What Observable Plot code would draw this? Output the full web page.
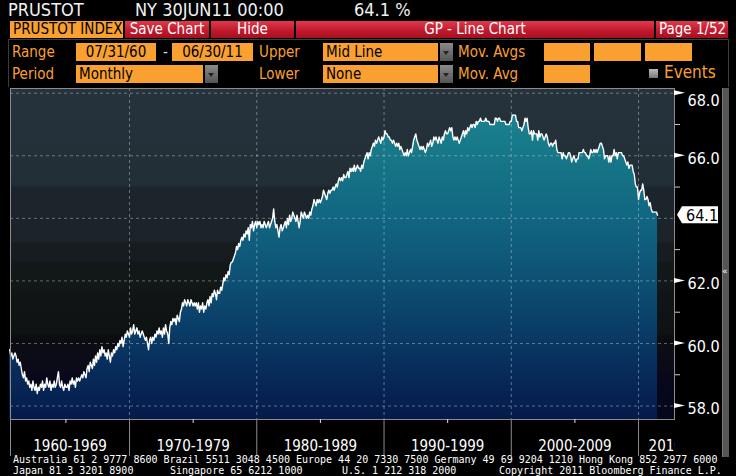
<!DOCTYPE html>
<html><head><meta charset="utf-8">
<script src="https://cdn.jsdelivr.net/npm/d3@7"></script>
<script src="https://cdn.jsdelivr.net/npm/@observablehq/plot@0.6"></script>
<style>
html,body{margin:0;padding:0;background:#000;}
#wrap{position:relative;width:736px;height:476px;background:#000;overflow:hidden;
  font-family:"Liberation Sans Narrow","DejaVu Sans Condensed","Roboto Condensed","Liberation Sans",sans-serif;}
#wrap svg{position:absolute;left:0;top:0;}
.t{position:absolute;white-space:nowrap;line-height:1;}
.hdr{color:#f2f2f2;font-size:18px;top:1px;}
.ob{position:absolute;background:#f9a030;color:#000;font-size:15px;line-height:18px;height:18px;white-space:nowrap;box-sizing:border-box;}
.btn{position:absolute;top:21px;height:17px;line-height:17px;color:#fff;font-size:15px;text-align:center;
  background:linear-gradient(#e23a4c,#c01a2e 55%,#a8101f);box-sizing:border-box;white-space:nowrap;}
.lbl{position:absolute;color:#f9a030;font-size:15px;line-height:18px;white-space:nowrap;}
.dd{position:absolute;width:13px;height:18px;background:linear-gradient(#8a8a8a,#555);}
.dd:after{content:"";position:absolute;left:3px;top:8px;border-left:3.5px solid transparent;border-right:3.5px solid transparent;border-top:4px solid #222;}
.foot{position:absolute;color:#fff;font-family:"DejaVu Sans Mono",monospace;font-size:10px;line-height:10px;white-space:nowrap;}
</style></head>
<body><div id="wrap"></div>
<script>
// PRUSTOT: US labor force participation rate (%), monthly, Jul 1960 - Jun 2011
const firstMonth = "1960-07";
const rate = [
  59.8,59.6,59.7,59.5,59.6,59.7,                               // 1960 Jul-Dec
  59.6,59.4,59.5,59.3,59.4,59.2,59.0,58.9,59.1,58.8,58.9,58.7, // 1961
  58.8,58.6,58.7,58.5,58.8,58.6,58.5,58.7,58.4,58.6,58.5,58.7, // 1962
  58.6,58.8,58.5,58.7,58.6,58.9,58.7,58.6,58.8,58.5,58.7,58.6, // 1963
  58.8,58.6,58.7,58.9,59.1,58.7,58.6,58.8,58.6,58.5,58.7,58.6, // 1964
  58.6,58.7,58.5,58.8,58.7,58.9,58.7,58.8,58.6,58.9,58.8,58.9, // 1965
  58.8,58.9,59.0,58.9,59.1,59.0,58.9,59.2,59.3,59.1,59.4,59.3, // 1966
  59.2,59.5,59.3,59.6,59.4,59.7,59.5,59.8,59.6,59.9,59.7,59.8, // 1967
  59.6,59.7,59.5,59.8,59.6,59.4,59.7,59.6,59.8,59.7,59.9,59.8, // 1968
  60.0,59.9,60.1,60.0,60.2,59.9,60.1,60.3,60.2,60.4,60.3,60.2, // 1969
  60.5,60.3,60.4,60.6,60.3,60.4,60.5,60.3,60.4,60.2,60.3,60.4, // 1970
  60.3,60.2,60.1,60.2,60.0,59.8,60.1,60.2,60.0,60.2,60.1,60.3, // 1971
  60.2,60.4,60.3,60.5,60.3,60.4,60.2,60.5,60.3,60.6,60.4,60.3, // 1972
  60.0,60.5,60.7,60.6,60.8,60.7,60.8,60.6,60.9,60.8,60.7,61.0, // 1973
  61.1,61.3,61.2,61.4,61.3,61.2,61.4,61.3,61.2,61.4,61.3,61.2, // 1974
  61.3,61.2,61.3,61.1,61.3,61.0,61.2,61.1,61.3,61.0,61.2,61.1, // 1975
  61.3,61.4,61.2,61.5,61.3,61.6,61.5,61.7,61.6,61.4,61.7,61.6, // 1976
  61.6,61.8,61.7,61.9,62.1,62.0,62.2,62.1,62.3,62.2,62.5,62.6, // 1977
  62.6,62.7,62.8,62.9,63.1,63.0,63.2,63.1,63.3,63.4,63.3,63.5, // 1978
  63.4,63.6,63.5,63.7,63.3,63.8,63.7,63.9,63.6,63.8,63.9,63.7, // 1979
  63.9,63.8,63.9,63.7,63.8,63.7,63.9,63.8,63.7,63.8,63.9,63.7, // 1980
  63.8,63.9,64.0,64.3,63.9,63.7,63.8,63.6,63.4,63.7,63.8,63.6, // 1981
  63.7,63.8,63.9,63.7,64.0,63.8,64.1,63.9,64.0,64.2,64.1,64.0, // 1982
  63.9,64.1,63.9,63.7,63.9,64.2,64.1,64.0,64.2,64.1,64.0,64.1, // 1983
  64.0,64.2,64.1,64.3,64.4,64.6,64.5,64.4,64.6,64.5,64.6,64.5, // 1984
  64.6,64.7,64.9,64.8,64.7,64.6,64.8,64.9,64.8,64.9,64.9,65.0, // 1985
  64.9,65.0,65.1,65.0,65.2,65.3,65.2,65.3,65.2,65.4,65.3,65.3, // 1986
  65.4,65.5,65.3,65.6,65.5,65.6,65.5,65.7,65.5,65.6,65.7,65.6, // 1987
  65.6,65.5,65.7,65.6,65.8,65.9,66.0,66.1,65.9,66.1,66.0,66.2, // 1988
  66.3,66.4,66.3,66.5,66.4,66.5,66.6,66.5,66.4,66.6,66.5,66.6, // 1989
  66.8,66.7,66.7,66.6,66.6,66.5,66.5,66.4,66.5,66.4,66.3,66.4, // 1990
  66.3,66.4,66.2,66.3,66.2,66.1,66.0,66.1,66.0,66.2,66.0,66.1, // 1991
  66.2,66.1,66.3,66.5,66.6,66.7,66.5,66.4,66.3,66.2,66.3,66.2, // 1992
  66.3,66.2,66.1,66.2,66.4,66.3,66.4,66.5,66.3,66.4,66.6,66.5, // 1993
  66.6,66.5,66.4,66.6,66.5,66.4,66.6,66.5,66.7,66.8,66.7,66.7, // 1994
  66.8,66.9,66.8,66.9,66.6,66.5,66.6,66.5,66.6,66.5,66.4,66.5, // 1995
  66.6,66.7,66.8,66.6,66.8,66.7,66.9,66.8,66.9,67.0,66.9,67.0, // 1996
  67.0,66.9,67.1,67.0,67.1,67.1,67.2,67.1,67.1,67.1,67.1,67.2, // 1997
  67.1,67.1,67.1,67.0,67.0,67.0,67.0,67.0,67.2,67.2,67.1,67.2, // 1998
  67.2,67.1,67.1,67.1,67.1,67.1,67.0,67.0,67.0,67.0,67.1,67.1, // 1999
  67.3,67.3,67.3,67.3,67.1,67.1,66.9,66.9,66.9,66.8,66.9,67.0, // 2000
  67.2,67.1,67.2,66.9,66.7,66.7,66.8,66.5,66.8,66.7,66.7,66.7, // 2001
  66.5,66.8,66.6,66.7,66.7,66.6,66.5,66.6,66.7,66.6,66.4,66.3, // 2002
  66.4,66.4,66.3,66.4,66.4,66.5,66.2,66.1,66.1,66.1,66.1,65.9, // 2003
  66.1,66.0,66.0,65.9,66.0,66.1,66.1,66.0,65.8,65.9,66.0,65.9, // 2004
  65.8,65.9,65.9,66.1,66.1,66.1,66.1,66.2,66.1,66.1,66.0,66.0, // 2005
  65.9,66.0,66.2,66.1,66.1,66.2,66.1,66.2,66.1,66.2,66.3,66.4, // 2006
  66.4,66.3,66.2,65.9,66.0,66.0,66.0,65.8,66.0,65.8,66.0,66.0, // 2007
  66.2,66.0,66.1,65.9,66.1,66.1,66.1,66.1,66.0,66.0,65.9,65.8, // 2008
  65.7,65.8,65.6,65.7,65.7,65.7,65.5,65.4,65.1,65.0,65.0,64.6, // 2009
  64.8,64.9,64.9,65.1,64.9,64.6,64.6,64.7,64.6,64.4,64.5,64.3, // 2010
  64.2,64.2,64.2,64.2,64.2,64.1                                // 2011 Jan-Jun
];
const yTicks = [58, 60, 62, 64, 66, 68];
const yMinorTicks = [59, 61, 63, 65, 67];
const decadeStarts = [1960, 1970, 1980, 1990, 2000, 2010];
const decadeLabels = ["1960-1969", "1970-1979", "1980-1989", "1990-1999", "2000-2009", "2010-2019"];
const lastValueLabel = "64.1";

const FONT = '"Liberation Sans Narrow","DejaVu Sans Condensed","Roboto Condensed","Liberation Sans",sans-serif';
const utc = (y, m = 0, d = 1) => new Date(Date.UTC(y, m, d));
const [fy, fm] = firstMonth.split("-").map(Number);
const series = rate.map((v, i) => ({date: d3.utcDay.offset(d3.utcMonth.offset(utc(fy, fm, 1), i), -1), v}));

const W = 736, H = 476, MT = 88, MB = 57, ML = 10, MR = 62;
const xDomain = [utc(1960, 7, 24), utc(2012, 9, 29)];
const yDomain = [57.57, 68.15];
const yScale = Plot.scale({y: {domain: yDomain, range: [H - MB, MT]}});
const lastV = rate[rate.length - 1];
// tick labels hidden under the last-value flag, as in the terminal
const shownTicks = yTicks.filter(t => Math.abs(yScale.apply(t) - yScale.apply(lastV)) > 12);
const topTick = d3.max(shownTicks);

const decadeDates = decadeStarts.map(y => utc(y));
const sepDates = [xDomain[0], ...decadeDates.slice(1)];
const halfDates = decadeStarts.slice(0, 5).map(y => utc(y + 5));
const labelData = decadeLabels.slice(0, 5).map((label, i) => {
  const a = Math.max(+decadeDates[i], +xDomain[0]), b = +decadeDates[i + 1];
  return {date: new Date((a + b) / 2), label};
});
const lastDecade = [{date: decadeDates[5], label: decadeLabels[5]}];

const plot = Plot.plot({
  width: W, height: H,
  marginTop: MT, marginBottom: MB, marginLeft: ML, marginRight: MR,
  style: {background: "transparent", color: "#fff", fontFamily: FONT, overflow: "visible"},
  x: {type: "utc", domain: xDomain, axis: null, label: null},
  y: {domain: yDomain, axis: null, label: null},
  marks: [
    Plot.frame({fill: "url(#bgGrad)"}),
    Plot.areaY(series, {x: "date", y1: yDomain[0], y2: "v", fill: "url(#areaGrad)"}),
    Plot.ruleY(yTicks, {stroke: "#c8d2da", strokeOpacity: 0.45, strokeDasharray: "3,3"}),
    Plot.ruleX(decadeDates.slice(1), {stroke: "#c8d2da", strokeOpacity: 0.45, strokeDasharray: "3,3"}),
    Plot.lineY(series, {x: "date", y: "v", stroke: "#ffffff", strokeWidth: 1.4}),
    Plot.frame({stroke: "#8c8c8c"}),
    Plot.axisX({ticks: sepDates, tickSize: 37, tickFormat: () => "", stroke: "#8c8c8c"}),
    Plot.axisX({ticks: halfDates, tickSize: 4, tickFormat: () => "", stroke: "#dddddd"}),
    Plot.text(labelData, {x: "date", text: "label", frameAnchor: "bottom", lineAnchor: "top", dy: 21,
      fill: "#fff", fontSize: 15}),
    Plot.text(lastDecade, {x: "date", text: "label", frameAnchor: "bottom", lineAnchor: "top", dy: 21, dx: 10,
      textAnchor: "start", fill: "#fff", fontSize: 15}),
    Plot.axisY({ticks: yMinorTicks, anchor: "right", tickSize: 5, tickFormat: () => "", stroke: "#cccccc"}),
    Plot.text(shownTicks.filter(t => t !== topTick), {y: d => d, text: d => d.toFixed(1), frameAnchor: "right",
      textAnchor: "start", dx: 13, dy: 3, fill: "#fff", fontSize: 16}),
    Plot.text([topTick], {y: d => d, text: d => d.toFixed(1), frameAnchor: "right",
      textAnchor: "start", dx: 13, dy: 8, fill: "#fff", fontSize: 16})
  ]
});

const wrap = document.getElementById("wrap");
wrap.appendChild(plot);

// gradients, clip and right-hand markers, placed from the plot's own scales
const svg = d3.select(plot);
const ys = plot.scale("y"), xs = plot.scale("x");
const [yb, yt] = ys.range;
const xr = xs.range[1];
const defs = svg.insert("defs", ":first-child");
function grad(id, stops) {
  const g = defs.append("linearGradient").attr("id", id).attr("gradientUnits", "userSpaceOnUse")
    .attr("x1", 0).attr("x2", 0).attr("y1", yt).attr("y2", yb);
  for (const [o, c] of stops) g.append("stop").attr("offset", o).attr("stop-color", c);
}
grad("bgGrad", [
  [0, "#26333c"], [0.29, "#222e36"], [0.30, "#1c252c"], [0.46, "#1b2329"], [0.47, "#161c20"],
  [0.52, "#151b1e"], [0.53, "#121718"], [0.60, "#121718"], [0.61, "#101515"], [0.68, "#0f1313"],
  [0.74, "#0e1212"], [0.75, "#0b0d0e"], [0.77, "#0b0c0f"], [0.78, "#0c0d16"], [0.84, "#0b0b18"],
  [0.87, "#08081b"], [1, "#06061c"]
]);
grad("areaGrad", [
  [0, "#1c8896"], [0.19, "#177888"], [0.40, "#116581"], [0.58, "#0d5074"], [0.76, "#093864"],
  [0.88, "#072858"], [1, "#051a4a"]
]);
defs.append("clipPath").attr("id", "clipR").append("rect")
  .attr("x", 0).attr("y", 0).attr("width", xr + 1).attr("height", H);
const clipG = svg.append("g").attr("clip-path", "url(#clipR)");
svg.selectAll("text").filter(function () { return this.textContent === decadeLabels[5]; })
  .each(function () { clipG.node().appendChild(this.parentNode); });

for (const t of shownTicks) {
  const y = ys.apply(t);
  svg.append("path").attr("d", `M${xr},${y - 2.5}L${xr + 11},${y}L${xr},${y + 2.5}Z`).attr("fill", "#fff");
}
const ly = ys.apply(lastV);
svg.append("path")
  .attr("d", `M${xr + 3},${ly}L${xr + 8},${ly - 8.5}L${xr + 44},${ly - 8.5}L${xr + 44},${ly + 8.5}L${xr + 8},${ly + 8.5}Z`)
  .attr("fill", "#fff");
svg.append("text").attr("x", xr + 12).attr("y", ly + 6).attr("fill", "#000").attr("text-anchor", "start")
  .attr("font-size", 16).attr("font-family", FONT).text(lastValueLabel);

// Bloomberg terminal chrome
const html = `
<div class="t hdr" style="left:8px">PRUSTOT</div>
<div class="t hdr" style="left:135px">NY 30JUN11 00:00</div>
<div class="t hdr" style="left:354px">64.1 %</div>
<div class="ob" style="left:10px;top:21px;width:113px;height:17px;line-height:17px;padding-left:3px">PRUSTOT INDEX</div>
<div class="btn" style="left:125px;width:84px">Save Chart</div>
<div class="btn" style="left:211px;width:83px">Hide</div>
<div class="btn" style="left:296px;width:358px">GP - Line Chart</div>
<div class="btn" style="left:656px;width:72px;text-align:left;padding-left:3px">Page 1/52</div>
<div style="position:absolute;left:8px;top:39px;width:719px;height:47px;border:1px solid #3c3c3c;border-bottom:none"></div>
<div class="lbl" style="left:12px;top:43px">Range</div>
<div class="ob" style="left:76px;top:43px;width:80px;text-align:center">07/31/60</div>
<div class="lbl" style="left:163px;top:43px;color:#ddd">-</div>
<div class="ob" style="left:172px;top:43px;width:81px;text-align:center">06/30/11</div>
<div class="lbl" style="left:259px;top:43px">Upper</div>
<div class="ob" style="left:323px;top:43px;width:115px;padding-left:3px">Mid Line</div>
<div class="dd" style="left:440px;top:43px"></div>
<div class="lbl" style="left:458px;top:43px">Mov. Avgs</div>
<div class="ob" style="left:544px;top:43px;width:46px"></div>
<div class="ob" style="left:594px;top:43px;width:47px"></div>
<div class="ob" style="left:645px;top:43px;width:47px"></div>
<div class="lbl" style="left:12px;top:65px">Period</div>
<div class="ob" style="left:76px;top:65px;width:127px;padding-left:3px">Monthly</div>
<div class="dd" style="left:205px;top:65px"></div>
<div class="lbl" style="left:259px;top:65px">Lower</div>
<div class="ob" style="left:323px;top:65px;width:115px;padding-left:3px">None</div>
<div class="dd" style="left:440px;top:65px"></div>
<div class="lbl" style="left:458px;top:65px">Mov. Avg</div>
<div class="ob" style="left:544px;top:65px;width:46px"></div>
<div style="position:absolute;left:649px;top:69px;width:9px;height:9px;background:linear-gradient(#bbb,#777)"></div>
<div class="lbl" style="left:664px;top:63px;font-size:17px">Events</div>
<div style="position:absolute;left:722px;top:88px;width:6px;height:369px;background:#555;border-left:1px solid #777"></div>
<div class="t" style="left:722px;top:267px;color:#fff;font-size:9px;font-family:'DejaVu Sans',sans-serif">«</div>
<div class="foot" style="left:13px;top:455px">Australia 61 2 9777 8600 Brazil 5511 3048 4500 Europe 44 20 7330 7500 Germany 49 69 9204 1210 Hong Kong 852 2977 6000</div>
<div class="foot" style="left:13px;top:466px">Japan 81 3 3201 8900</div>
<div class="foot" style="left:170px;top:466px">Singapore 65 6212 1000</div>
<div class="foot" style="left:342px;top:466px">U.S. 1 212 318 2000</div>
<div class="foot" style="left:499px;top:466px">Copyright 2011 Bloomberg Finance L.P.</div>`;
wrap.insertAdjacentHTML("beforeend", html);
</script>
</body></html>
